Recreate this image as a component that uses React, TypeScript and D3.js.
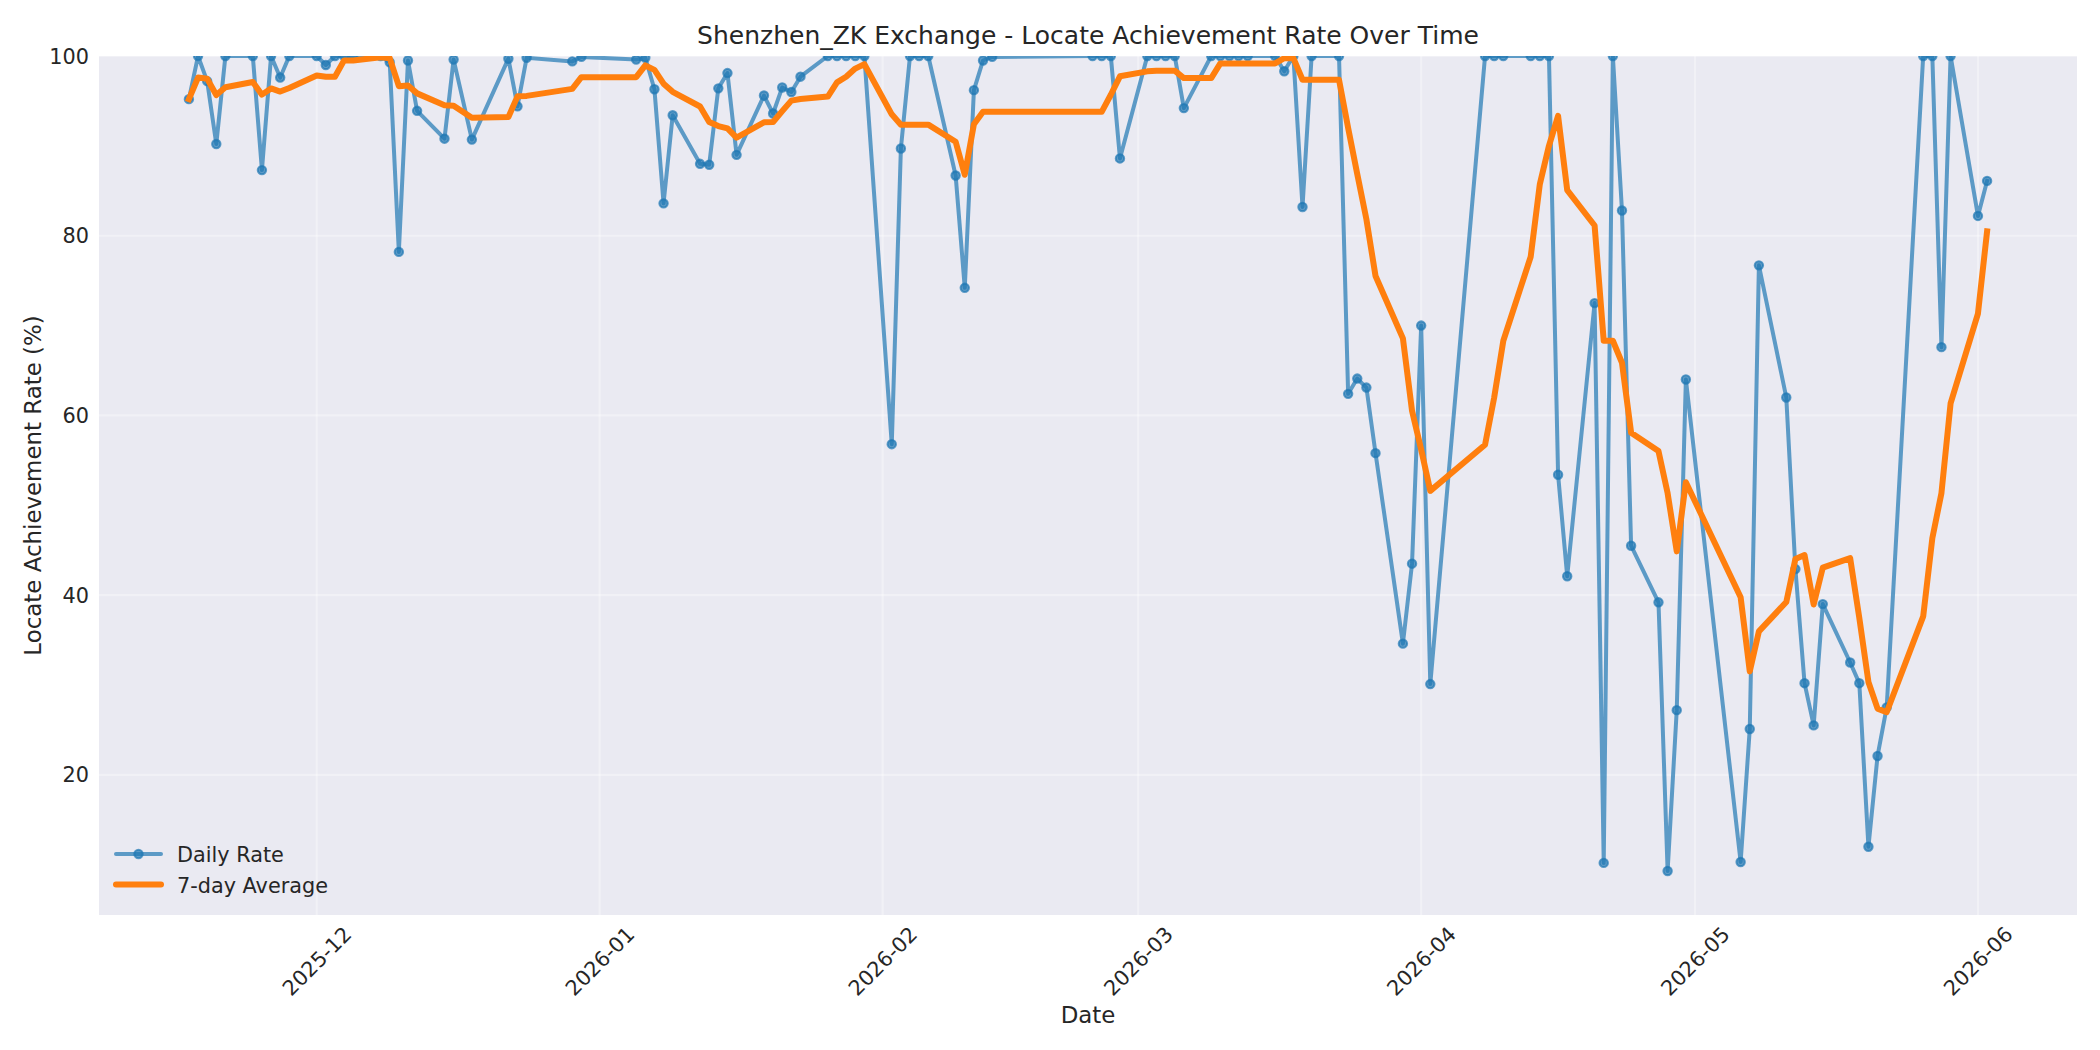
import React from 'react';
import * as d3 from 'd3';

// ---- Data ----
const dates: string[] = [
  '2025-11-17','2025-11-18','2025-11-19','2025-11-20','2025-11-21','2025-11-24','2025-11-25','2025-11-26','2025-11-27','2025-11-28',
  '2025-12-01','2025-12-02','2025-12-03','2025-12-04','2025-12-05','2025-12-08','2025-12-09','2025-12-10','2025-12-11','2025-12-12','2025-12-15','2025-12-16','2025-12-18','2025-12-22','2025-12-23','2025-12-24','2025-12-29','2025-12-30',
  '2026-01-05','2026-01-06','2026-01-07','2026-01-08','2026-01-09','2026-01-12','2026-01-13','2026-01-14','2026-01-15','2026-01-16','2026-01-19','2026-01-20','2026-01-21','2026-01-22','2026-01-23','2026-01-26','2026-01-27','2026-01-28','2026-01-29','2026-01-30',
  '2026-02-02','2026-02-03','2026-02-04','2026-02-05','2026-02-06','2026-02-09','2026-02-10','2026-02-11','2026-02-12','2026-02-13','2026-02-24','2026-02-25','2026-02-26','2026-02-27',
  '2026-03-02','2026-03-03','2026-03-04','2026-03-05','2026-03-06','2026-03-09','2026-03-10','2026-03-11','2026-03-12','2026-03-13','2026-03-16','2026-03-17','2026-03-18','2026-03-19','2026-03-20','2026-03-23','2026-03-24','2026-03-25','2026-03-26','2026-03-27','2026-03-30','2026-03-31',
  '2026-04-01','2026-04-02','2026-04-08','2026-04-09','2026-04-10','2026-04-13','2026-04-14','2026-04-15','2026-04-16','2026-04-17','2026-04-20','2026-04-21','2026-04-22','2026-04-23','2026-04-24','2026-04-27','2026-04-28','2026-04-29','2026-04-30',
  '2026-05-06','2026-05-07','2026-05-08','2026-05-11','2026-05-12','2026-05-13','2026-05-14','2026-05-15','2026-05-18','2026-05-19','2026-05-20','2026-05-21','2026-05-22','2026-05-26','2026-05-27','2026-05-28','2026-05-29',
  '2026-06-01','2026-06-02',
];

const dailyRate: number[] = [
  95.2, 100, 97.2, 90.2, 100, 100, 87.3, 100, 97.6, 100,
  100, 99.0, 100, 100, 100, 100, 99.3, 78.2, 99.5, 93.9, 90.8, 99.6, 90.7, 99.7, 94.4, 99.8, 99.4, 99.9,
  99.6, 99.8, 96.3, 83.6, 93.4, 88.0, 87.9, 96.4, 98.1, 89.0, 95.6, 93.6, 96.5, 96.0, 97.7, 100, 100, 100, 100, 100,
  56.8, 89.7, 100, 100, 100, 86.7, 74.2, 96.2, 99.5, 99.9, 100, 100, 100, 88.6,
  100, 100, 100, 100, 94.2, 100, 100, 100, 100, 100, 100, 98.3, 100, 83.2, 100, 100, 62.4, 64.1, 63.1, 55.8, 34.6, 43.5,
  70.0, 30.1, 100, 100, 100, 100, 100, 100, 53.4, 42.1, 72.5, 10.2, 100, 82.8, 45.5, 39.2, 9.3, 27.2, 64.0,
  10.3, 25.1, 76.7, 62.0, 42.9, 30.2, 25.5, 39.0, 32.5, 30.2, 12.0, 22.1, 27.5, 100, 100, 67.6, 100,
  82.2, 86.1,
];

const avg7: number[] = [
  95.2, 97.6, 97.47, 95.65, 96.52, 97.1, 95.7, 96.39, 96.04, 96.44,
  97.84, 97.7, 97.7, 99.51, 99.51, 99.86, 99.76, 96.64, 96.71, 95.84, 94.53, 94.47, 93.14, 93.2, 95.51, 95.56, 96.34, 97.64,
  97.64, 98.95, 98.46, 96.92, 96.01, 94.38, 92.66, 92.2, 91.95, 90.91, 92.62, 92.65, 93.86, 95.03, 95.21, 95.49, 97.06, 97.69, 98.6, 99.1,
  93.51, 92.36, 92.36, 92.36, 92.36, 90.46, 86.78, 92.4, 93.8, 93.79, 93.79, 93.79, 95.69, 97.74,
  98.29, 98.36, 98.37, 98.37, 97.54, 97.54, 99.17, 99.17, 99.17, 99.17, 99.17, 99.76, 99.76, 97.36, 97.36, 97.36, 91.99, 86.86, 81.83, 75.51, 68.57, 60.5,
  56.21, 51.6, 56.73, 62.0, 68.31, 77.66, 85.73, 90.01, 93.34, 85.07, 81.14, 68.31, 68.31, 65.86, 58.07, 56.03, 51.34, 44.87, 52.57,
  39.76, 31.51, 35.97, 39.23, 44.03, 44.46, 38.96, 43.06, 44.11, 37.47, 30.34, 27.37, 26.97, 37.63, 46.33, 51.36, 61.33,
  71.34, 80.49,
];

const yTicks: number[] = [20, 40, 60, 80, 100];
const seriesNames: string[] = ['Daily Rate', '7-day Average'];
const titleText = 'Shenzhen_ZK Exchange - Locate Achievement Rate Over Time';
const xLabel = 'Date';
const yLabel = 'Locate Achievement Rate (%)';

// ---- Layout ----
const W = 2100;
const H = 1050;
const PL = 99, PR = 2077, PT = 56, PB = 915;
const FONT = '"DejaVu Sans", Verdana, sans-serif';
const TEXT = '#262626';
const BLUE = '#1f77b4';
const ORANGE = '#ff7f0e';
const BLUE_W = 4.0;

type Pt = { date: Date; daily: number; avg: number };

export default function App() {
  const parse = d3.utcParse('%Y-%m-%d');
  const pts: Pt[] = dates.map((d, i) => ({ date: parse(d) as Date, daily: dailyRate[i], avg: avg7[i] }));
  const ext = d3.extent(pts, (p) => p.date) as [Date, Date];
  const span = ext[1].getTime() - ext[0].getTime();
  const x = d3
    .scaleUtc()
    .domain([new Date(ext[0].getTime() - 0.05 * span), new Date(ext[1].getTime() + 0.05 * span)])
    .range([PL, PR]);
  const y = d3.scaleLinear().domain([4.4, 100]).range([PB, PT]);

  const xTicks = x.ticks(d3.utcMonth.every(1) as any);
  const fmt = d3.utcFormat('%Y-%m');

  const dailyLine = d3
    .line<Pt>()
    .x((p) => x(p.date))
    .y((p) => y(p.daily))(pts) as string;
  const avgLine = d3
    .line<Pt>()
    .x((p) => x(p.date))
    .y((p) => y(p.avg))(pts) as string;

  const cx = (PL + PR) / 2;
  const cy = (PT + PB) / 2;

  return (
    <svg
      width={W}
      height={H}
      viewBox={`0 0 ${W} ${H}`}
      style={{ position: 'absolute', left: 0, top: 0, display: 'block' }}
      fontFamily={FONT}
    >
      <defs>
        <clipPath id="plotClip">
          <rect x={PL} y={PT} width={PR - PL} height={PB - PT} />
        </clipPath>
      </defs>
      <rect x={0} y={0} width={W} height={H} fill="#ffffff" />
      <rect x={PL} y={PT} width={PR - PL} height={PB - PT} fill="#eaeaf2" />

      {/* grid */}
      <g stroke="#ffffff" strokeOpacity={0.35} strokeWidth={2.1}>
        {xTicks.map((t) => (
          <line key={'gx' + t.getTime()} x1={x(t)} x2={x(t)} y1={PT} y2={PB} />
        ))}
        {yTicks.map((v) => (
          <line key={'gy' + v} x1={PL} x2={PR} y1={y(v)} y2={y(v)} />
        ))}
      </g>

      {/* series */}
      <g clipPath="url(#plotClip)">
        <path
          d={dailyLine}
          fill="none"
          stroke={BLUE}
          strokeOpacity={0.7}
          strokeWidth={BLUE_W}
          strokeLinejoin="round"
          strokeLinecap="square"
        />
        {pts.map((p, i) => (
          <circle
            key={'m' + i}
            cx={x(p.date)}
            cy={y(p.daily)}
            r={4.17}
            fill={BLUE}
            fillOpacity={0.7}
            stroke={BLUE}
            strokeOpacity={0.7}
            strokeWidth={2.08}
          />
        ))}
        <path
          d={avgLine}
          fill="none"
          stroke={ORANGE}
          strokeWidth={6}
          strokeLinejoin="round"
          strokeLinecap="square"
        />
      </g>

      {/* y ticks */}
      <g fill={TEXT} fontSize={20.8} textAnchor="end">
        {yTicks.map((v) => (
          <text key={'yt' + v} x={89} y={y(v) + 7.6}>
            {v}
          </text>
        ))}
      </g>

      {/* x ticks */}
      <g fill={TEXT} fontSize={20.8} textAnchor="middle">
        {xTicks.map((t) => (
          <text key={'xt' + t.getTime()} transform={`translate(${x(t)},961) rotate(-45)`} x={0} y={7.6}>
            {fmt(t)}
          </text>
        ))}
      </g>

      {/* axis labels */}
      <text x={cx} y={1023} fill={TEXT} fontSize={22.9} textAnchor="middle">
        {xLabel}
      </text>
      <text
        transform={`translate(33,${cy}) rotate(-90)`}
        x={0}
        y={8}
        fill={TEXT}
        fontSize={22.9}
        textAnchor="middle"
      >
        {yLabel}
      </text>

      {/* title */}
      <text x={cx} y={43.5} fill={TEXT} fontSize={25} textAnchor="middle">
        {titleText}
      </text>

      {/* legend */}
      <g>
        <line x1={116} x2={161} y1={854} y2={854} stroke={BLUE} strokeOpacity={0.7} strokeWidth={BLUE_W} strokeLinecap="round" />
        <circle cx={138.5} cy={854} r={4.17} fill={BLUE} fillOpacity={0.7} stroke={BLUE} strokeOpacity={0.7} strokeWidth={2.08} />
        <text x={177} y={862} fill={TEXT} fontSize={20.8}>
          {seriesNames[0]}
        </text>
        <line x1={116} x2={161} y1={884.5} y2={884.5} stroke={ORANGE} strokeWidth={6} strokeLinecap="round" />
        <text x={177} y={892.5} fill={TEXT} fontSize={20.8}>
          {seriesNames[1]}
        </text>
      </g>
    </svg>
  );
}
